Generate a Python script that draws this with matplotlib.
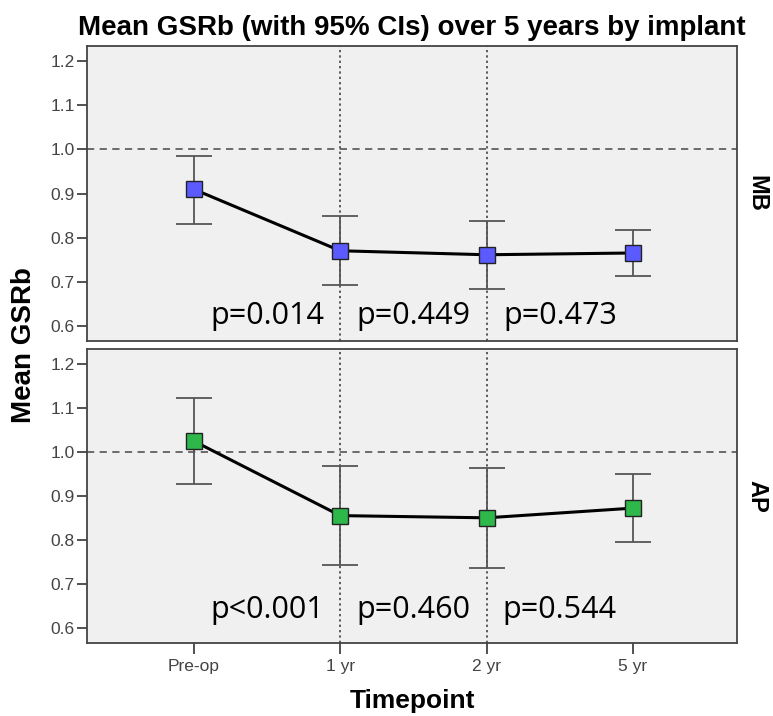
import matplotlib
matplotlib.use("Agg")
import matplotlib.pyplot as plt

timepoints = ["Pre-op", "1 yr", "2 yr", "5 yr"]
panels = ["MB", "AP"]

mb_mean = [0.910, 0.771, 0.762, 0.766]
mb_lo = [0.832, 0.693, 0.685, 0.713]
mb_hi = [0.986, 0.849, 0.839, 0.819]

ap_mean = [1.025, 0.856, 0.851, 0.873]
ap_lo = [0.928, 0.744, 0.738, 0.797]
ap_hi = [1.122, 0.969, 0.964, 0.950]

mb_p = ["p=0.014", "p=0.449", "p=0.473"]
ap_p = ["p<0.001", "p=0.460", "p=0.544"]

yticks = [0.6, 0.7, 0.8, 0.9, 1.0, 1.1, 1.2]

fig = plt.figure(figsize=(7.73, 7.16), dpi=100)
fig.patch.set_facecolor("white")

left, right = 87 / 773, 737 / 773
ax_top = fig.add_axes([left, 1 - 341 / 716, right - left, (341 - 46) / 716])
ax_bot = fig.add_axes([left, 1 - 643 / 716, right - left, (643 - 349) / 716])

series = [
    (ax_top, mb_mean, mb_lo, mb_hi, mb_p, "#5a5aff", panels[0], 0.606),
    (ax_bot, ap_mean, ap_lo, ap_hi, ap_p, "#2eb84a", panels[1], 0.623),
]

x = list(range(len(timepoints)))
for ax, mean, lo, hi, pv, col, lab, py in series:
    ax.set_facecolor("#f0f0f0")
    ax.set_xlim(-0.73, 3.71)
    ax.set_ylim(0.567, 1.234)
    ax.axhline(1.0, color="#606060", ls=(0, (4, 3)), lw=1.3, zorder=1)
    for xv in (1, 2):
        ax.axvline(xv, color="#333333", ls=(0, (1.5, 2)), lw=1.1, zorder=1)
    yerr = [[m - l for m, l in zip(mean, lo)], [h - m for m, h in zip(mean, hi)]]
    ax.errorbar(x, mean, yerr=yerr, fmt="none", ecolor="#555555",
                elinewidth=1.3, capsize=13, capthick=1.3, zorder=2)
    ax.plot(x, mean, color="black", lw=2.2, zorder=3)
    ax.plot(x, mean, ls="none", marker="s", markersize=11,
            markerfacecolor=col, markeredgecolor="#222222",
            markeredgewidth=1.0, zorder=4)
    for i, t in enumerate(pv):
        ax.text(i + 0.5, py, t, ha="center", va="baseline",
                fontsize=22, family="Open Sans", color="black", zorder=5)
    ax.set_yticks(yticks)
    ax.set_yticklabels([f"{v:.1f}" for v in yticks])
    ax.tick_params(axis="y", direction="out", length=7, width=1.2,
                   color="#333333", labelsize=12.5, labelcolor="#444444",
                   pad=2)
    for s in ax.spines.values():
        s.set_color("#444444")
        s.set_linewidth(1.3)
    ax.text(1.031, 0.5, lab, transform=ax.transAxes, rotation=270,
            ha="center", va="center", fontsize=17, fontweight="bold",
            family="Liberation Sans")
    for t in ax.get_yticklabels():
        t.set_family("Liberation Sans")

ax_top.set_xticks([])
ax_bot.set_xticks(x)
ax_bot.set_xticklabels(timepoints)
ax_bot.tick_params(axis="x", direction="out", length=8, width=1.2,
                   color="#333333", labelsize=12.5, labelcolor="#444444")
for t in ax_bot.get_xticklabels():
    t.set_family("Liberation Sans")

fig.text((left + right) / 2, 1 - 35 / 716,
         "Mean GSRb (with 95% CIs) over 5 years by implant",
         ha="center", va="baseline", fontsize=20, fontweight="bold",
         family="Liberation Sans")
fig.text((left + right) / 2, 1 - 708 / 716, "Timepoint",
         ha="center", va="baseline", fontsize=19, fontweight="bold",
         family="Liberation Sans")
fig.text(24 / 773, 1 - 345 / 716, "Mean GSRb", rotation=90,
         ha="center", va="center", fontsize=20, fontweight="bold",
         family="Liberation Sans")

fig.savefig("out.png", dpi=100)
